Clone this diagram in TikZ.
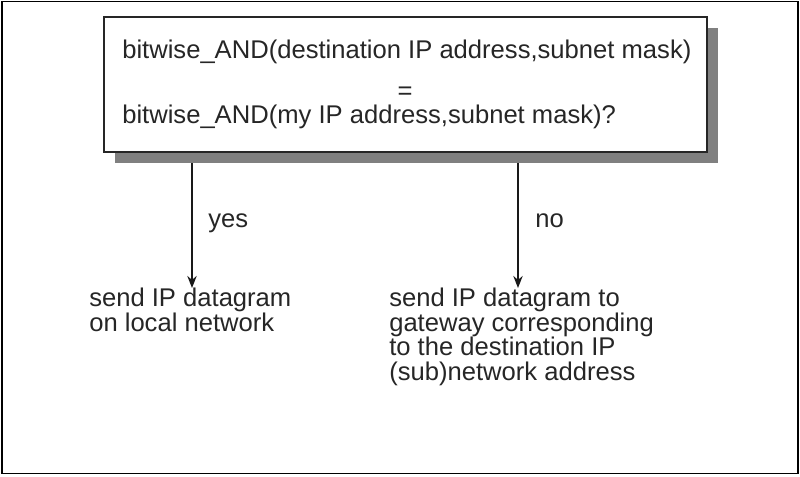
\documentclass[tikz,border=0pt]{standalone}
\usepackage{fontspec}
\setmainfont{Liberation Sans}
\usetikzlibrary{arrows.meta}
\begin{document}
\begin{tikzpicture}[x=0.75pt,y=-0.75pt,
  txt/.style={font=\fontsize{19.2}{18.4}\selectfont, inner sep=0pt, text=black!85},
  arr/.style={line width=1.4pt, draw=black!90, -{Stealth[length=9pt,width=7pt]}},
  decision/.style={draw=black!85, line width=1.5pt, fill=white, minimum width=452.25pt, minimum height=101.25pt, inner sep=0pt},
  shade/.style={fill=black!50}]
\useasboundingbox (0,0) rectangle (800,476);
\draw[line width=1.2pt] (2,1.5) rectangle (798,473.5);
% shadow and decision box
\fill[shade] (115,28) rectangle (718,163);
\node[decision] (box) at (405.5,84.5) {};
\node[txt, anchor=base west] (l1) at (122,58) {bitwise\_AND(destination IP address,subnet mask)};
\node[txt, anchor=base] (eq) at (405,99) {=};
\node[txt, anchor=base west] (l3) at (122,123) {bitwise\_AND(my IP address,subnet mask)?};
% connectors
\coordinate (ys) at (192,163);
\coordinate (ye) at (192,288);
\coordinate (ns) at (518,163);
\coordinate (ne) at (518,288);
\draw[arr] (ys) -- (ye);
\draw[arr] (ns) -- (ne);
\node[txt, anchor=base west] (yes) at (208,227) {yes};
\node[txt, anchor=base west] (no) at (535,227) {no};
% outcomes (base anchor = baseline of the last line)
\node[txt, anchor=base west, align=left] (local) at (89,331.5) {send IP datagram\\on local network};
\node[txt, anchor=base west, align=left] (gw) at (389,380.5) {send IP datagram to\\gateway corresponding\\to the destination IP\\(sub)network address};
\end{tikzpicture}
\end{document}
